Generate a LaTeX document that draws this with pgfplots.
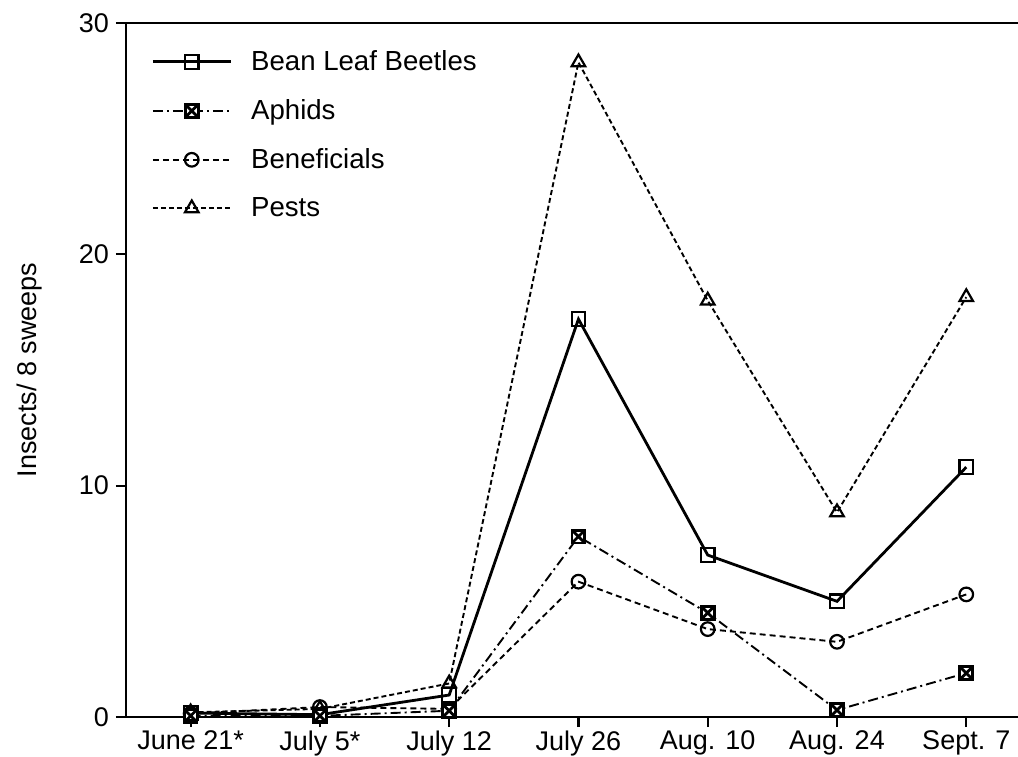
\documentclass[border=0pt]{standalone}
\usepackage{fontspec}
\setmainfont{Liberation Sans}
\usepackage{pgfplots}
\pgfplotsset{compat=1.18}
\pgfdeclareplotmark{boxx}{%
  \pgfpathrectangle{\pgfqpoint{-\pgfplotmarksize}{-\pgfplotmarksize}}{\pgfqpoint{2\pgfplotmarksize}{2\pgfplotmarksize}}%
  \pgfusepathqfillstroke
  \pgfpathmoveto{\pgfqpoint{-\pgfplotmarksize}{-\pgfplotmarksize}}%
  \pgfpathlineto{\pgfqpoint{\pgfplotmarksize}{\pgfplotmarksize}}%
  \pgfpathmoveto{\pgfqpoint{-\pgfplotmarksize}{\pgfplotmarksize}}%
  \pgfpathlineto{\pgfqpoint{\pgfplotmarksize}{-\pgfplotmarksize}}%
  \pgfusepathqstroke}
\begin{document}
\begin{tikzpicture}
\begin{axis}[
  scale only axis, width=446pt, height=347pt,
  xmin=-0.5, xmax=6.4, ymin=0, ymax=30,
  axis x line=box, axis y line=left,
  axis line style={-, line width=1.3pt},
  xtick pos=bottom, ytick pos=left,
  tick align=outside, major tick length=5pt,
  tick style={line width=1.1pt, black},
  xtick={0,1,2,3,4,5,6},
  xticklabels={June 21*, July 5*, July 12, July 26, Aug. 10, Aug. 24, Sept. 7},
  ytick={0,10,20,30},
  /pgf/number format/assume math mode=true,
  tick label style={font=\fontsize{13.5}{16}\selectfont},
  xticklabel style={yshift=1.5pt},
  ylabel={Insects/ 8 sweeps},
  ylabel style={at={(axis description cs:-0.1087,0.5)}, anchor=center, font=\fontsize{13.5}{16}\selectfont},
  clip=false,
  reverse legend,
  legend cell align=left,
  legend style={draw=none, fill=none, at={(axis description cs:0.028,0.967)}, anchor=north west,
    font=\fontsize{13.8}{16}\selectfont, row sep=9pt, inner sep=0pt,
    /tikz/every odd column/.append style={column sep=7.5pt}},
  legend image code/.code={\draw[mark repeat=2,mark phase=2] plot coordinates {(0pt,0pt) (19.5pt,0pt) (39pt,0pt)};},
]
% Pests
\addplot[black, line width=0.95pt, dash pattern=on 2.5pt off 1.5pt, mark=triangle, mark size=3.9pt, mark options={solid, fill=white, line width=1.1pt}]
  coordinates {(0,0.2) (1,0.35) (2,1.45) (3,28.3) (4,18.0) (5,8.85) (6,18.15)};
\addlegendentry{Pests}
% Beneficials
\addplot[black, line width=0.95pt, dash pattern=on 3pt off 2pt, mark=o, mark size=3.4pt, mark options={solid, fill=white, line width=1.1pt}]
  coordinates {(0,0.15) (1,0.43) (2,0.35) (3,5.85) (4,3.8) (5,3.25) (6,5.3)};
\addlegendentry{Beneficials}
% Aphids
\addplot[black, line width=0.95pt, dash pattern=on 5pt off 2pt on 1pt off 2pt, mark=boxx, mark size=3.2pt, mark options={solid, fill=white, line width=1.4pt}]
  coordinates {(0,0.05) (1,0.05) (2,0.27) (3,7.8) (4,4.5) (5,0.3) (6,1.9)};
\addlegendentry{Aphids}
% Bean Leaf Beetles
\addplot[black, line width=1.4pt, solid, mark=square, mark size=3.4pt, mark options={solid, fill=white, line width=1.1pt}]
  coordinates {(0,0.17) (1,0.1) (2,0.95) (3,17.2) (4,7.0) (5,5.0) (6,10.8)};
\addlegendentry{Bean Leaf Beetles}
\end{axis}
\pgfresetboundingbox
\path[use as bounding box] (-63pt,-19.5pt) rectangle (446pt,358.5pt);
\end{tikzpicture}
\end{document}
